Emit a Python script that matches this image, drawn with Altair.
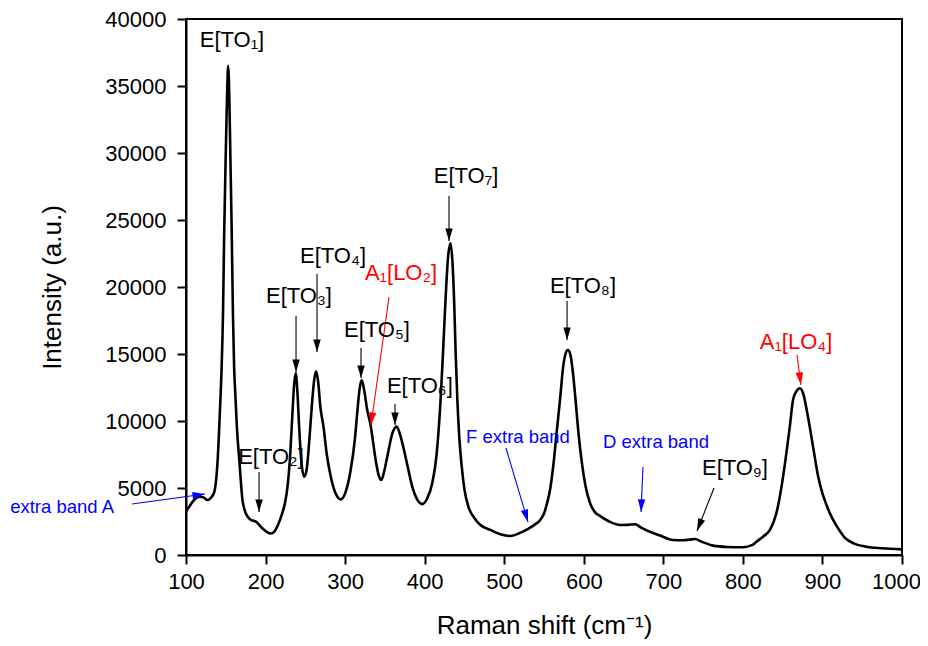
import math
import altair as alt
import pandas as pd

# ---------------- data ----------------
raman_shift = [100, 105, 110, 117, 122, 127, 131, 135.5, 139.8, 142.7, 144.5, 146.5, 148, 150, 151.5,
               153, 154.5, 156, 157.5, 159, 160.5, 162, 164, 167, 171, 174, 177.4, 182, 188, 196,
               201, 206.6, 211, 216, 221, 224.5, 227.6, 231, 234, 236, 238, 240, 242.2, 245, 248.5,
               251.5, 254.7, 258, 261, 263.5, 266, 269, 272.8, 277, 282, 288, 294.5, 300, 307, 312,
               315.2, 318, 320.8, 324, 327.8, 332, 335, 338.4, 342, 345.5, 349, 353, 359.4, 364.8, 369,
               374, 379, 384.4, 390, 397, 403, 409.5, 415, 420, 423, 426.2, 429.5, 432.5, 435, 437,
               439, 441.1, 443.5, 446.6, 450, 455, 462, 470, 482.7, 495, 507.8, 520, 530, 538, 545,
               550, 554, 558, 562, 566, 570.5, 574, 577, 580, 583, 586, 589.3, 593, 597.7, 602,
               608, 614, 620.7, 632, 645.8, 655, 664.6, 672, 683, 696, 712, 725, 733, 740, 748,
               762.8, 780, 800, 812, 817, 826, 834, 842, 848.6, 854, 859, 863, 867, 871.6, 876,
               880, 884, 889, 894.6, 900, 905, 909, 918, 928, 940, 955, 975, 1000]
intensity = [3230, 3700, 4100, 4350, 4300, 4100, 4250, 4700, 7090, 10820, 13500, 18000, 24000, 30000, 34000,
             36500, 34000, 29000, 24000, 18000, 14000, 12000, 9500, 7090, 4100, 3300, 2860, 2600, 2490, 1990,
             1750, 1600, 1750, 2300, 3130, 3900, 5100, 7500, 10820, 12800, 13560, 12200, 9580, 7000, 5840,
             6300, 8330, 11000, 13000, 13700, 13000, 11000, 9580, 7500, 5840, 4600, 4150, 4600, 6340, 8500,
             10570, 12300, 13060, 12300, 10820, 9700, 8500, 7090, 6000, 5600, 6200, 7340, 9080, 9580, 9000,
             7840, 6500, 5100, 4200, 3800, 4200, 5350, 7500, 11570, 15000, 19030, 22300, 23260, 21800, 19030,
             15000, 11570, 8800, 6590, 4900, 3600, 2800, 2240, 1870, 1550, 1420, 1650, 1950, 2250, 2600,
             3100, 3900, 5000, 6840, 9200, 11820, 14000, 15000, 15300, 15000, 13800, 11820, 9300, 6840, 5200,
             3850, 3200, 2900, 2500, 2240, 2250, 2300, 2050, 1740, 1450, 1120, 1100, 1150, 1190, 1000,
             700, 600, 575, 750, 990, 1400, 1870, 3100, 5100, 7300, 9580, 11570, 12200, 12440, 12000,
             10900, 9580, 7800, 5850, 4600, 3750, 3150, 2150, 1300, 850, 620, 500, 420]

label_text = ["E[TO₁]", "E[TO₂]", "E[TO₃]", "E[TO₄]", "A₁[LO₂]", "E[TO₅]", "E[TO₆]", "E[TO₇]",
              "E[TO₈]", "A₁[LO₄]", "E[TO₉]", "F extra band", "D extra band", "extra band A"]
label_x = [157.8, 206.8, 242, 284.8, 370.3, 340, 394, 452, 599, 866.8, 790, 517.3, 690.8, -121]
label_y = [38430, 7310, 19330, 22310, 21040, 16790, 12610, 28280, 20075, 15900, 6490, 8810, 8430, 3580]
label_color = ["black"] * 4 + ["red"] + ["black"] * 4 + ["red", "black", "blue", "blue", "blue"]
label_size = [22] * 11 + [18.5, 18.5, 18.5]
label_align = ["center"] * 13 + ["left"]

arrow_x0 = [191.8, 238.3, 264.7, 355.2, 320, 362.7, 430.6, 579, 868, 763.7, 502.2, 674.4, 32.1]
arrow_y0 = [6190, 17840, 20970, 19250, 15450, 11270, 26790, 18960, 14930, 5000, 7985, 6570, 3800]
arrow_x1 = [191.8, 238.3, 264.7, 332.5, 320, 362.7, 430.6, 579, 873, 742.3, 529.9, 672, 123.9]
arrow_y1 = [3210, 13660, 15150, 9700, 13210, 9700, 23430, 16050, 12690, 1790, 2460, 3210, 4550]
arrow_color = ["black", "black", "black", "red", "black", "black", "black", "black", "red",
               "black", "blue", "blue", "blue"]

# ---------------- layout ----------------
X_MIN, X_MAX = 100, 1000
Y_MIN, Y_MAX = 0, 40000
W, H = 716, 536
FONT = "Liberation Sans"

spec = pd.DataFrame({"x": raman_shift, "y": intensity})
labels = pd.DataFrame({"t": label_text, "x": label_x, "y": label_y, "c": label_color,
                       "s": label_size, "a": label_align})

sx = W / (X_MAX - X_MIN)
sy = H / (Y_MAX - Y_MIN)
angles = []
for x0, y0, x1, y1 in zip(arrow_x0, arrow_y0, arrow_x1, arrow_y1):
    dx = (x1 - x0) * sx
    dy = -(y1 - y0) * sy
    angles.append(math.degrees(math.atan2(dx, -dy)) % 360)
arrows = pd.DataFrame({"x0": arrow_x0, "y0": arrow_y0, "x1": arrow_x1, "y1": arrow_y1,
                       "c": arrow_color, "ang": angles})

xscale = alt.Scale(domain=[X_MIN, X_MAX], nice=False, zero=False)
yscale = alt.Scale(domain=[Y_MIN, Y_MAX], nice=False, zero=False)

xaxis = alt.Axis(
    title="Raman shift (cm⁻¹)",
    values=list(range(100, 1001, 50)),
    labelExpr="datum.value % 100 == 0 ? datum.label : ''",
    tickSize={"condition": {"test": "datum.value % 100 == 0", "value": 9}, "value": 5},
    labelOffset={"condition": {"test": "datum.value == 1000", "value": -6}, "value": 0},
    format="d", grid=False, labelPadding=7, titlePadding=20, labelFlush=False,
)
yaxis = alt.Axis(
    title="Intensity (a.u.)",
    values=list(range(0, 40001, 2500)),
    labelExpr="datum.value % 5000 == 0 ? datum.label : ''",
    tickSize={"condition": {"test": "datum.value % 5000 == 0", "value": 9}, "value": 5},
    format="d", grid=False, labelPadding=11, titlePadding=39, labelFlush=False,
)

line = alt.Chart(spec).mark_line(color="black", strokeWidth=2.6, interpolate="monotone").encode(
    x=alt.X("x:Q", scale=xscale, axis=xaxis),
    y=alt.Y("y:Q", scale=yscale, axis=yaxis),
)

shafts = alt.Chart(arrows).mark_rule(strokeWidth=1.1).encode(
    x="x0:Q", y="y0:Q", x2="x1:Q", y2="y1:Q",
    color=alt.Color("c:N", scale=None),
)

heads = alt.Chart(arrows).mark_point(
    shape="M0,0L-0.65,2.2L0.65,2.2Z", filled=True, opacity=1, size=130, strokeWidth=0
).encode(
    x="x1:Q", y="y1:Q",
    color=alt.Color("c:N", scale=None),
    angle=alt.Angle("ang:Q", scale=None),
)

texts = []
for al in ["center", "left"]:
    sub = labels[labels["a"] == al]
    texts.append(
        alt.Chart(sub).mark_text(font=FONT, align=al, baseline="middle").encode(
            x="x:Q", y="y:Q", text="t:N",
            color=alt.Color("c:N", scale=None),
            size=alt.Size("s:Q", scale=None),
        )
    )

chart = alt.layer(line, shafts, heads, *texts).properties(
    width=W, height=H,
    autosize=alt.AutoSizeParams(type="none"),
    padding={"left": 178, "top": 11, "right": 18, "bottom": 88},
).configure_view(
    stroke="black", strokeWidth=2
).configure_axis(
    domainColor="black", domainWidth=2, tickColor="black", tickWidth=2,
    labelFont=FONT, labelFontSize=22, labelColor="black",
    titleFont=FONT, titleFontSize=26, titleFontWeight="normal", titleColor="black",
)

chart.save("out.html", embed_options={"renderer": "svg", "actions": False})
